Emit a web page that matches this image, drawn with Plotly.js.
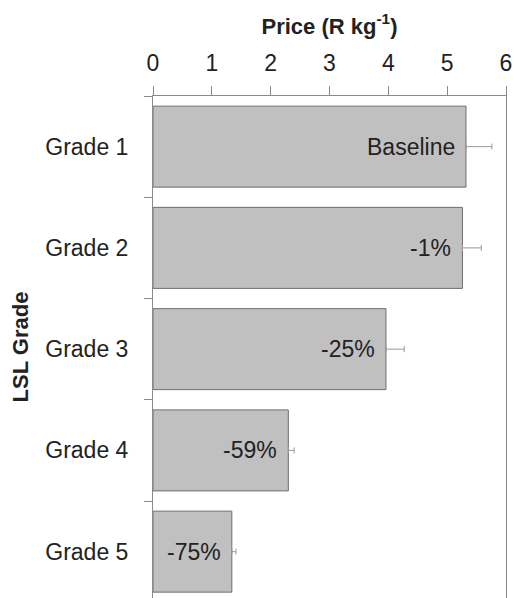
<!DOCTYPE html>
<html>
<head>
<meta charset="utf-8">
<script src="https://cdn.plot.ly/plotly-3.0.1.min.js"></script>
<style>html,body{margin:0;padding:0;background:#fff}</style>
</head>
<body>
<div id="chart" style="width:514px;height:598px"></div>
<script>
const grades = ["Grade 1", "Grade 2", "Grade 3", "Grade 4", "Grade 5"];
const prices = [5.32, 5.26, 3.96, 2.30, 1.34];
const errors = [0.44, 0.32, 0.31, 0.10, 0.07];
const labels = ["Baseline", "-1%", "-25%", "-59%", "-75%"];
const xTicks = [0, 1, 2, 3, 4, 5, 6];

const FONT = "Liberation Sans, Arial, sans-serif";

const trace = {
  type: "bar",
  orientation: "h",
  x: prices,
  y: grades,
  marker: { color: "#c0c0c0", line: { color: "#6e6e6e", width: 1 } },
  error_x: {
    type: "data",
    symmetric: false,
    array: errors,
    arrayminus: errors.map(() => 0),
    color: "#9a9a9a",
    thickness: 1,
    width: 3
  },
  hoverinfo: "none"
};

const annotations = grades.map((g, i) => ({
  x: prices[i], y: g, xref: "x", yref: "y",
  text: labels[i], showarrow: false,
  xanchor: "right", yanchor: "middle", xshift: -9,
  font: { family: FONT, size: 23, color: "#222" }
}));

const layout = {
  width: 514, height: 598,
  margin: { l: 153, r: 8, t: 96, b: 0, pad: 0 },
  paper_bgcolor: "#fff", plot_bgcolor: "#fff",
  showlegend: false,
  bargap: 0.2,
  font: { family: FONT, color: "#222" },
  xaxis: {
    side: "top",
    range: [0, 6],
    tickvals: xTicks,
    ticktext: xTicks.map(String),
    ticks: "outside", ticklen: 9, tickwidth: 1, tickcolor: "#8a8a8a",
    showline: true, linecolor: "#8a8a8a", linewidth: 1,
    showgrid: false, zeroline: false,
    tickfont: { family: FONT, size: 23, color: "#222" },
    ticklabelstandoff: 6,
    title: { text: "Price (R kg<sup>-1</sup>)", font: { family: FONT, size: 22, color: "#222", weight: "bold" }, standoff: 9 }
  },
  yaxis: {
    type: "category",
    range: [4.458, -0.5],
    tickson: "boundaries",
    ticks: "outside", ticklen: 8, tickwidth: 1, tickcolor: "#8a8a8a",
    showline: true, linecolor: "#8a8a8a", linewidth: 1, mirror: true,
    showgrid: false, zeroline: false,
    tickfont: { family: FONT, size: 23, color: "#222" },
    ticklabelstandoff: 19,
    title: { text: "LSL Grade", font: { family: FONT, size: 22, color: "#222", weight: "bold" }, standoff: 10 }
  },
  annotations: annotations
};

Plotly.newPlot("chart", [trace], layout, { staticPlot: true, displayModeBar: false });
</script>
</body>
</html>
